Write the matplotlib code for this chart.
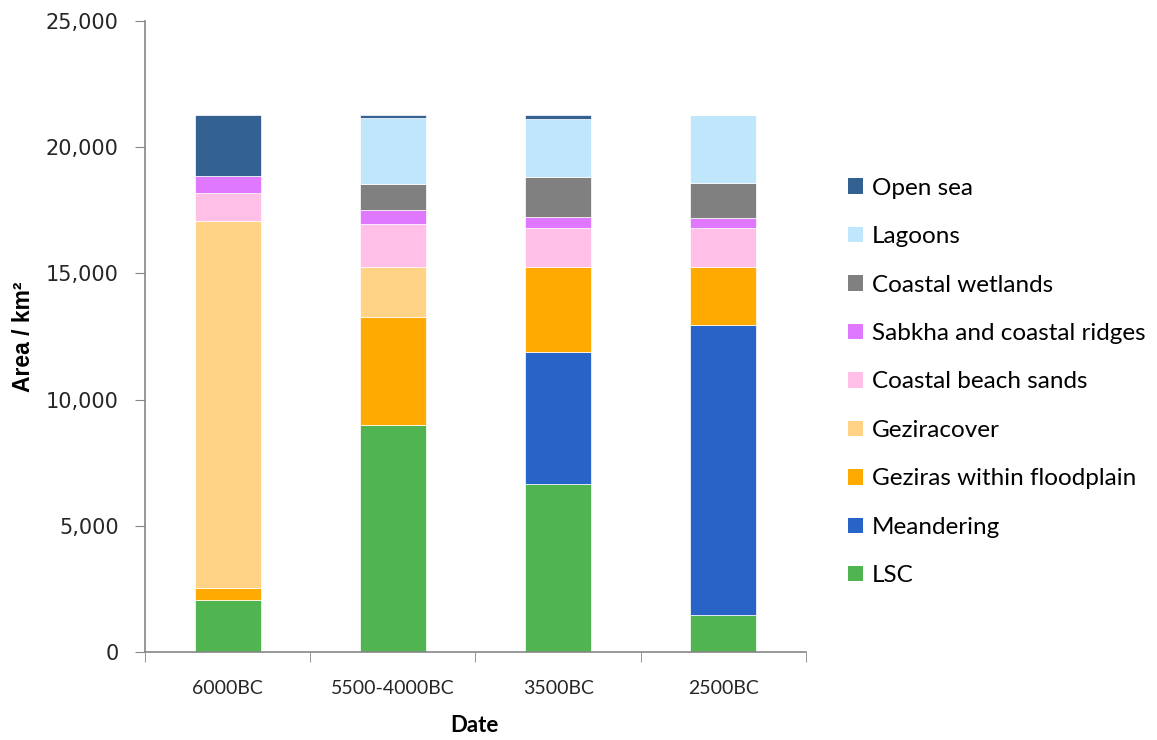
import numpy as np
import matplotlib.pyplot as plt
from matplotlib.patches import Patch

# Landscape unit areas (km^2) per period
dates = ["6000BC", "5500-4000BC", "3500BC", "2500BC"]
lsc = [2070, 9010, 6660, 1470]
meandering = [0, 0, 5240, 11490]
geziras_floodplain = [450, 4250, 3340, 2280]
geziracover = [14540, 1980, 0, 0]
beach_sands = [1110, 1710, 1570, 1570]
sabkha = [690, 560, 440, 380]
wetlands = [0, 1030, 1580, 1390]
lagoons = [0, 2630, 2270, 2710]
open_sea = [2430, 120, 190, 0]

series = [
    ("LSC", lsc, "#50B450"),
    ("Meandering", meandering, "#2864C8"),
    ("Geziras within floodplain", geziras_floodplain, "#FFAA00"),
    ("Geziracover", geziracover, "#FFD285"),
    ("Coastal beach sands", beach_sands, "#FFBFE6"),
    ("Sabkha and coastal ridges", sabkha, "#DF77FF"),
    ("Coastal wetlands", wetlands, "#808080"),
    ("Lagoons", lagoons, "#C0E6FC"),
    ("Open sea", open_sea, "#336192"),
]

label_font = "Lato"
axis_grey = "#868686"

fig = plt.figure(figsize=(11.57, 7.40), dpi=100)
ax = fig.add_axes([0.1253, 0.1189, 0.5713, 0.8527])

x = np.arange(len(dates))
bottom = np.zeros(len(dates))
for name, vals, col in series:
    vals = np.array(vals, dtype=float)
    ax.bar(x, vals, width=0.4, bottom=bottom, color=col,
           edgecolor="white", linewidth=0.5, label=name)
    bottom += vals

ax.set_xlim(-0.5, len(dates) - 0.5)
ax.set_ylim(0, 25000)
ax.set_yticks(np.arange(0, 25001, 5000))
ax.set_yticklabels([f"{v:,}" for v in range(0, 25001, 5000)],
                   fontsize=15, color="#262626")

ax.set_xticks(x)
ax.set_xticklabels(dates, fontsize=14, family=label_font, color="#262626")
ax.set_xticks(np.arange(-0.5, len(dates)), minor=True)
ax.tick_params(axis="x", which="major", length=0, pad=20)
ax.tick_params(axis="x", which="minor", length=7, color=axis_grey, direction="out")
ax.tick_params(axis="y", length=7, color=axis_grey, direction="out", pad=12)

for s in ["top", "right"]:
    ax.spines[s].set_visible(False)
for s in ["left", "bottom"]:
    ax.spines[s].set_color(axis_grey)
    ax.spines[s].set_linewidth(1.2)

fig.text(0.02, 0.545, "Area / km\u00b2", rotation=90, ha="center", va="center",
         fontsize=16.5, fontweight="bold", family="Liberation Sans")
fig.text(0.41, 0.02, "Date", ha="center", va="center",
         fontsize=16, fontweight="bold", family=label_font)

handles = [Patch(facecolor=col, edgecolor="none", label=name)
           for name, vals, col in series[::-1]]
fig.legend(handles=handles, loc="center left", bbox_to_anchor=(0.733, 0.4838),
           frameon=False, prop={"family": label_font, "size": 17.5},
           handlelength=0.6, handleheight=0.6, handletextpad=0.37,
           labelspacing=1.13, borderpad=0, borderaxespad=0)

fig.savefig("out.png", dpi=100)
